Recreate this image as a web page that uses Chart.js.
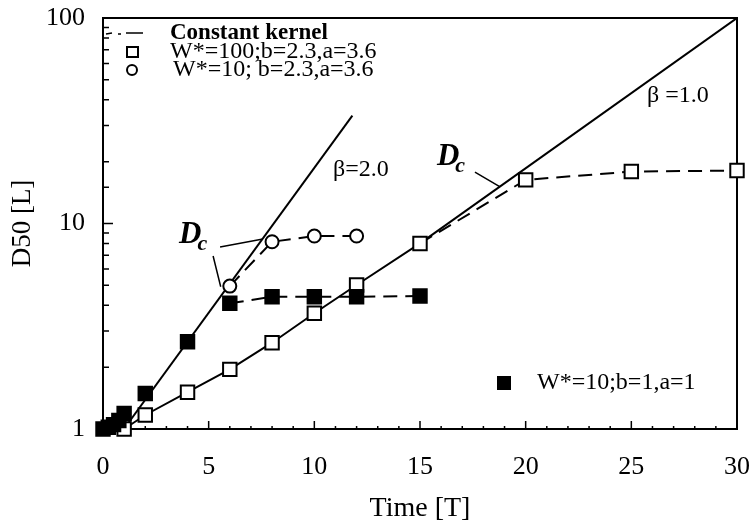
<!DOCTYPE html>
<html lang="en">
<head>
<meta charset="UTF-8" />
<title>D50 vs Time</title>
<style>
  * { margin: 0; padding: 0; box-sizing: border-box; }
  body { background: #fff; width: 753px; height: 525px; overflow: hidden; }
</style>
<script src="https://cdn.jsdelivr.net/npm/chart.js"></script>
</head>
<body>
<canvas id="chart" width="753" height="525"></canvas>
<script>
  const FONT = "'Liberation Serif', 'Times New Roman', serif";

  // W*=100; b=2.3, a=3.6 (open squares)
  const timeOpen = [1, 2, 4, 6, 8, 10, 12, 15, 20, 25, 30];
  const d50Open = [1.0, 1.17, 1.51, 1.95, 2.63, 3.66, 5.02, 8.0, 16.3, 17.9, 18.1];

  // W*=10; b=2.3, a=3.6 (open circles)
  const timeCircle = [6, 8, 10, 12];
  const d50Circle = [4.96, 8.15, 8.69, 8.69];

  // W*=10; b=1, a=1 (filled squares)
  const timeFilled = [0, 0.25, 0.5, 0.75, 1, 2, 4, 6, 8, 10, 12, 15];
  const d50Filled = [1.0, 1.02, 1.05, 1.1, 1.19, 1.49, 2.66, 4.09, 4.4, 4.4, 4.4, 4.44];

  // constant kernel lines
  const timeBeta2 = [0.99, 11.8];
  const d50Beta2 = [1, 33.5];
  const timeBeta1 = [15, 30];
  const d50Beta1 = [8.0, 100];

  const xTicks = [0, 5, 10, 15, 20, 25, 30];
  const yLabels = [1, 10, 100];

  const pts = (xs, ys) => xs.map((x, i) => ({ x: x, y: ys[i] }));
  const DASH = [14, 8];

  // text notes placed in data units
  const dcNotes = [{ t: 3.6, d: 8.04 }, { t: 15.8, d: 19.3 }];
  const leaders = [
    [5.54, 7.69, 7.57, 8.41],
    [5.21, 6.95, 5.57, 4.92],
    [17.6, 17.8, 18.79, 15.06]
  ];
  const betaNotes = [
    { text: 'β=2.0', t: 12.2, d: 18.2 },
    { text: 'β =1.0', t: 27.2, d: 41.7 }
  ];

  function drawDc(ctx, px, py) {
    ctx.font = 'italic bold 31px ' + FONT;
    ctx.textAlign = 'left';
    ctx.textBaseline = 'alphabetic';
    ctx.fillText('D', px, py);
    const w = ctx.measureText('D').width;
    ctx.font = 'italic bold 22px ' + FONT;
    ctx.fillText('c', px + w - 4, py + 7);
  }

  const decor = {
    id: 'decor',
    beforeDatasetsDraw(chart) {
      const { ctx, chartArea: a, scales: { x, y } } = chart;
      ctx.save();
      ctx.strokeStyle = '#000';
      ctx.lineWidth = 2;
      ctx.strokeRect(a.left, a.top, a.right - a.left, a.bottom - a.top);
      ctx.lineWidth = 1.5;
      ctx.beginPath();
      y.ticks.forEach(t => {
        const py = y.getPixelForValue(t.value);
        const len = yLabels.includes(t.value) ? 10 : 6;
        ctx.moveTo(a.left, py);
        ctx.lineTo(a.left + len, py);
      });
      for (let v = 1; v < 30; v++) {
        const px = x.getPixelForValue(v);
        const len = v % 5 === 0 ? 8 : 3;
        ctx.moveTo(px, a.bottom);
        ctx.lineTo(px, a.bottom - len);
      }
      ctx.stroke();
      ctx.restore();
    },
    afterDatasetsDraw(chart) {
      const { ctx, chartArea: a, scales: { x, y } } = chart;
      ctx.save();
      ctx.fillStyle = '#000';
      ctx.strokeStyle = '#000';

      // D_c labels and leader lines
      dcNotes.forEach(n => drawDc(ctx, x.getPixelForValue(n.t), y.getPixelForValue(n.d)));
      ctx.lineWidth = 1.5;
      ctx.beginPath();
      leaders.forEach(l => {
        ctx.moveTo(x.getPixelForValue(l[0]), y.getPixelForValue(l[1]));
        ctx.lineTo(x.getPixelForValue(l[2]), y.getPixelForValue(l[3]));
      });
      ctx.stroke();

      ctx.font = '24px ' + FONT;
      ctx.textAlign = 'center';
      ctx.textBaseline = 'middle';
      betaNotes.forEach(n => ctx.fillText(n.text, x.getPixelForValue(n.t), y.getPixelForValue(n.d)));

      // legend, top-left inside the frame
      const lx = a.left, ly = a.top;
      ctx.lineWidth = 1.5;
      ctx.beginPath();
      ctx.moveTo(lx + 3, ly + 16); ctx.lineTo(lx + 9, ly + 15);
      ctx.moveTo(lx + 15, ly + 16); ctx.lineTo(lx + 18, ly + 16);
      ctx.moveTo(lx + 23, ly + 15); ctx.lineTo(lx + 40, ly + 15);
      ctx.stroke();
      ctx.lineWidth = 2;
      ctx.fillStyle = '#fff';
      ctx.fillRect(lx + 24, ly + 29, 11, 10);
      ctx.strokeRect(lx + 24, ly + 29, 11, 10);
      ctx.beginPath();
      ctx.arc(lx + 29, ly + 52, 5, 0, Math.PI * 2);
      ctx.fill();
      ctx.stroke();

      ctx.fillStyle = '#000';
      ctx.textAlign = 'left';
      ctx.textBaseline = 'middle';
      ctx.font = 'bold 23px ' + FONT;
      ctx.fillText('Constant kernel', lx + 67, ly + 15);
      ctx.font = '24px ' + FONT;
      ctx.fillText('W*=100;b=2.3,a=3.6', lx + 67, ly + 34);
      ctx.fillText('W*=10; b=2.3,a=3.6', lx + 70, ly + 52);

      // legend, bottom right
      ctx.fillRect(a.left + 394, a.bottom - 53, 14, 14);
      ctx.fillText('W*=10;b=1,a=1', a.left + 434, a.bottom - 46);
      ctx.restore();
    }
  };

  const ctx = document.getElementById('chart').getContext('2d');
  new Chart(ctx, {
    type: 'scatter',
    data: {
      datasets: [
        {
          label: 'W*=10;b=1,a=1',
          data: pts(timeFilled, d50Filled),
          showLine: true,
          borderColor: '#000',
          borderWidth: 2,
          pointStyle: 'rect',
          pointRadius: 9.5,
          pointBackgroundColor: '#000',
          pointBorderColor: '#000',
          segment: {
            borderColor: c => c.p0DataIndex >= 7 ? '#000' : 'rgba(0,0,0,0)',
            borderDash: c => c.p0DataIndex >= 7 ? DASH : undefined
          },
          clip: false,
          order: 0
        },
        {
          label: 'W*=100;b=2.3,a=3.6',
          data: pts(timeOpen, d50Open),
          showLine: true,
          borderColor: '#000',
          borderWidth: 2,
          pointStyle: 'rect',
          pointRadius: 9.5,
          pointBorderWidth: 2,
          pointBackgroundColor: '#fff',
          pointBorderColor: '#000',
          segment: { borderDash: c => c.p0DataIndex >= 7 ? DASH : undefined },
          clip: false,
          order: 1
        },
        {
          label: 'W*=10; b=2.3,a=3.6',
          data: pts(timeCircle, d50Circle),
          showLine: true,
          borderColor: '#000',
          borderWidth: 2,
          borderDash: DASH,
          pointStyle: 'circle',
          pointRadius: 6.5,
          pointBorderWidth: 2,
          pointBackgroundColor: '#fff',
          pointBorderColor: '#000',
          clip: false,
          order: 2
        },
        {
          label: 'β=2.0',
          data: pts(timeBeta2, d50Beta2),
          showLine: true,
          borderColor: '#000',
          borderWidth: 2,
          pointRadius: 0,
          order: 3
        },
        {
          label: 'β=1.0',
          data: pts(timeBeta1, d50Beta1),
          showLine: true,
          borderColor: '#000',
          borderWidth: 2,
          pointRadius: 0,
          order: 3
        }
      ]
    },
    options: {
      responsive: false,
      devicePixelRatio: 1,
      animation: false,
      layout: { padding: { top: 18, right: 16, bottom: 0, left: 0 } },
      plugins: { legend: { display: false }, tooltip: { enabled: false } },
      scales: {
        x: {
          type: 'linear',
          min: 0,
          max: 30,
          afterBuildTicks: s => { s.ticks = xTicks.map(v => ({ value: v })); },
          afterFit: s => { s.height = 96; s.paddingLeft = 0; s.paddingRight = 0; },
          grid: { display: false, drawTicks: false },
          border: { display: false },
          ticks: { color: '#000', padding: 23, font: { family: FONT, size: 26 } },
          title: {
            display: true,
            text: 'Time [T]',
            color: '#000',
            font: { family: FONT, size: 28 },
            padding: { top: 0, bottom: 0 }
          }
        },
        y: {
          type: 'logarithmic',
          min: 1,
          max: 100,
          afterFit: s => { s.width = 103; s.paddingTop = 0; s.paddingBottom = 0; },
          grid: { display: false, drawTicks: false },
          border: { display: false },
          ticks: {
            color: '#000',
            padding: 18,
            autoSkip: false,
            font: { family: FONT, size: 26 },
            callback: v => yLabels.includes(v) ? String(v) : ''
          },
          title: {
            display: true,
            text: 'D50 [L]',
            color: '#000',
            font: { family: FONT, size: 27 },
            padding: { top: 7, bottom: 0 }
          }
        }
      }
    },
    plugins: [decor]
  });
</script>
</body>
</html>
